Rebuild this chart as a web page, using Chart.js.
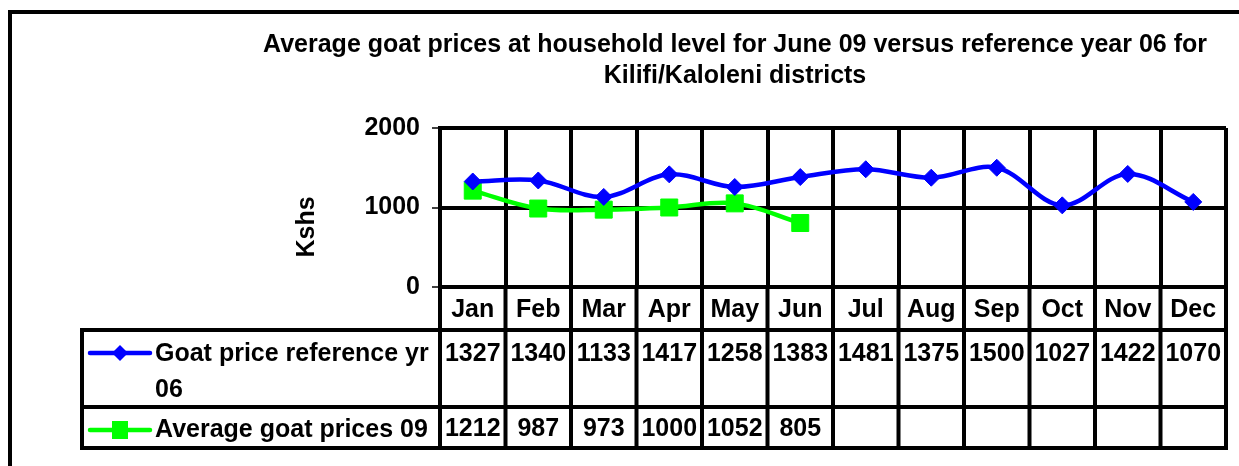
<!DOCTYPE html>
<html>
<head>
<meta charset="utf-8">
<script src="https://cdn.jsdelivr.net/npm/chart.js@4.4.1/dist/chart.umd.min.js"></script>
<style>
  html, body { margin: 0; padding: 0; background: #fff; }
  canvas { display: block; }
</style>
</head>
<body>
<canvas id="goatChart" width="1239" height="466"></canvas>
<script>
// du lieu doc tu hinh
const months = ['Jan', 'Feb', 'Mar', 'Apr', 'May', 'Jun', 'Jul', 'Aug', 'Sep', 'Oct', 'Nov', 'Dec'];
const refPrices06 = [1327, 1340, 1133, 1417, 1258, 1383, 1481, 1375, 1500, 1027, 1422, 1070];
const avgPrices09 = [1212, 987, 973, 1000, 1052, 805, null, null, null, null, null, null];
const refName = ['Goat price reference yr', '06'];
const avgName = ['Average goat prices 09'];
const titleLines = ['Average goat prices at household level for June 09 versus reference year 06 for', 'Kilifi/Kaloleni districts'];
const yTitle = 'Kshs';
const yMin = 0, yMax = 2000, yStep = 1000;

const FONT = '"Liberation Sans", Arial, sans-serif';
const BOLD = 'bold 25px ' + FONT;

Chart.defaults.font.family = FONT;
Chart.defaults.color = '#000';

// khung ngoai, bang du lieu, nhan truc y
const tablePlugin = {
    id: 'dataTable',
    beforeDraw(chart) {
        const ctx = chart.ctx;
        ctx.save();
        ctx.fillStyle = '#fff';
        ctx.fillRect(0, 0, chart.width, chart.height);
        ctx.strokeStyle = '#000';
        ctx.lineWidth = 4;
        ctx.beginPath();
        ctx.moveTo(10, chart.height + 10);
        ctx.lineTo(10, 12);
        ctx.lineTo(chart.width + 10, 12);
        ctx.stroke();
        ctx.restore();
    },
    afterDraw(chart) {
        const ctx = chart.ctx;
        const x = chart.scales.x;
        const area = chart.chartArea;
        const rowTop = 330, rowMid = 407, rowBot = 448, legLeft = 82;

        ctx.save();
        ctx.strokeStyle = '#000';
        ctx.lineWidth = 4;
        ctx.lineCap = 'square';

        // duong ngang
        [rowTop, rowMid, rowBot].forEach(function(y) {
            ctx.beginPath();
            ctx.moveTo(legLeft, y);
            ctx.lineTo(area.right, y);
            ctx.stroke();
        });
        ctx.beginPath();
        ctx.moveTo(legLeft, rowTop);
        ctx.lineTo(legLeft, rowBot);
        ctx.stroke();

        // duong doc theo ranh gioi cot
        const bounds = [area.left];
        for (let i = 0; i < months.length - 1; i++) {
            bounds.push((x.getPixelForValue(i) + x.getPixelForValue(i + 1)) / 2);
        }
        bounds.push(area.right);
        bounds.forEach(function(bx) {
            ctx.beginPath();
            ctx.moveTo(bx, area.bottom);
            ctx.lineTo(bx, rowBot);
            ctx.stroke();
        });

        // gia tri
        ctx.fillStyle = '#000';
        ctx.font = BOLD;
        ctx.textAlign = 'center';
        ctx.textBaseline = 'middle';
        for (let i = 0; i < months.length; i++) {
            const cx = x.getPixelForValue(i);
            if (refPrices06[i] != null) ctx.fillText(String(refPrices06[i]), cx, 354);
            if (avgPrices09[i] != null) ctx.fillText(String(avgPrices09[i]), cx, 429);
        }

        // chu thich
        ctx.lineWidth = 4.5;
        ctx.lineCap = 'round';
        ctx.strokeStyle = '#0000FF';
        ctx.beginPath(); ctx.moveTo(90, 353); ctx.lineTo(150, 353); ctx.stroke();
        ctx.fillStyle = '#0000FF';
        ctx.beginPath();
        ctx.moveTo(120, 345); ctx.lineTo(128, 353); ctx.lineTo(120, 361); ctx.lineTo(112, 353);
        ctx.closePath(); ctx.fill();

        ctx.strokeStyle = '#00FF00';
        ctx.beginPath(); ctx.moveTo(90, 430); ctx.lineTo(150, 430); ctx.stroke();
        ctx.fillStyle = '#00FF00';
        ctx.fillRect(112, 421, 16, 18);

        ctx.fillStyle = '#000';
        ctx.textAlign = 'left';
        ctx.fillText(refName[0], 155, 354);
        ctx.fillText(refName[1], 155, 390);
        ctx.fillText(avgName[0], 155, 430);

        // nhan truc y
        ctx.translate(307, 227);
        ctx.rotate(-Math.PI / 2);
        ctx.textAlign = 'center';
        ctx.fillText(yTitle, 0, 0);
        ctx.restore();
    }
};

const chart = new Chart('goatChart', {
    type: 'line',
    data: {
        labels: months,
        datasets: [{
            label: refName.join(' '),
            data: refPrices06,
            borderColor: '#0000FF',
            backgroundColor: '#0000FF',
            borderWidth: 4.5,
            tension: 0.35,
            pointStyle: 'rectRot',
            pointRadius: 8.5,
            pointBorderWidth: 1,
            pointBorderColor: '#0000FF',
            pointBackgroundColor: '#0000FF'
        }, {
            label: avgName[0],
            data: avgPrices09,
            borderColor: '#00FF00',
            backgroundColor: '#00FF00',
            borderWidth: 4.5,
            tension: 0.35,
            pointStyle: 'rect',
            pointRadius: 12,
            pointBorderWidth: 1,
            pointBorderColor: '#00FF00',
            pointBackgroundColor: '#00FF00'
        }]
    },
    options: {
        responsive: false,
        animation: false,
        devicePixelRatio: 1,
        layout: { padding: { left: 238, right: 7, top: 0, bottom: 0 } },
        plugins: {
            legend: { display: false },
            tooltip: { enabled: false },
            title: {
                display: true,
                text: titleLines,
                color: '#000',
                font: { size: 25, weight: 'bold', lineHeight: 1.26 },
                padding: { top: 29, bottom: 36 }
            }
        },
        scales: {
            x: {
                offset: true,
                grid: { offset: true, color: '#000', lineWidth: 4, drawTicks: false },
                border: { color: '#000', width: 4 },
                ticks: { font: { size: 25, weight: 'bold' }, color: '#000', padding: 8, maxRotation: 0, autoSkip: false },
                afterFit: function(scale) { scale.height = 179; }
            },
            y: {
                min: yMin,
                max: yMax,
                grid: { color: '#000', lineWidth: 4, tickLength: 8, tickWidth: 1.5, tickColor: '#000' },
                border: { color: '#000', width: 4 },
                ticks: {
                    stepSize: yStep,
                    font: { size: 25, weight: 'bold' },
                    color: '#000',
                    padding: 12,
                    callback: function(value) { return String(value); }
                },
                afterFit: function(scale) { scale.width = 202; }
            }
        }
    },
    plugins: [tablePlugin]
});
</script>
</body>
</html>
